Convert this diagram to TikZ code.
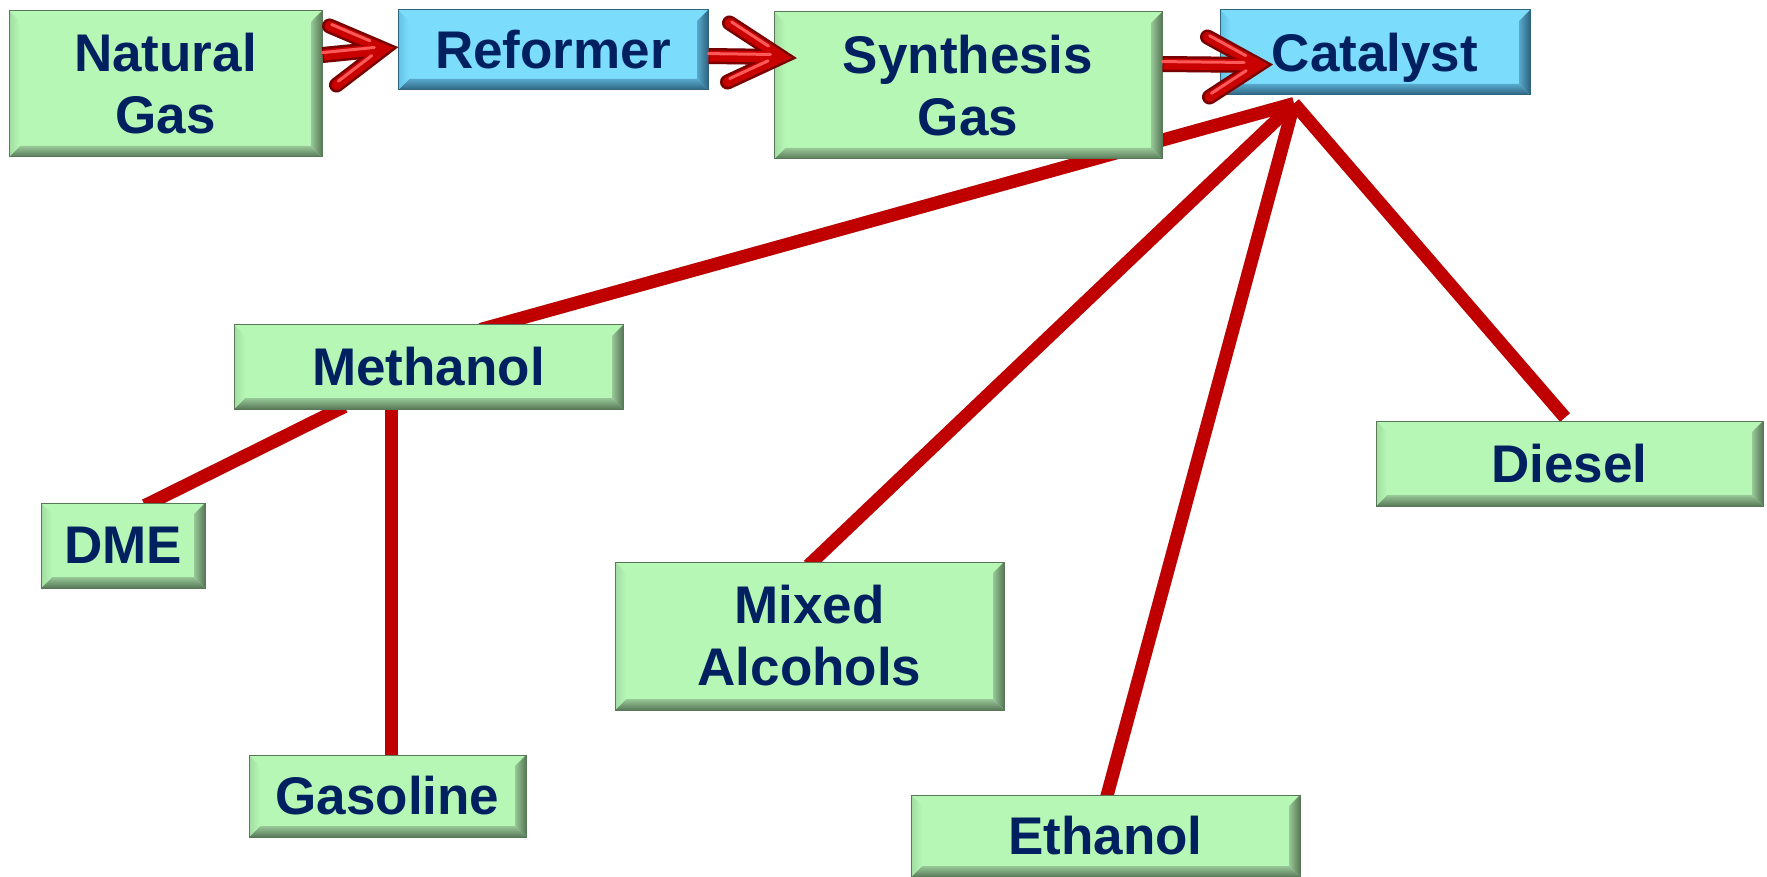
\documentclass[tikz,border=0pt]{standalone}
\usepackage{fontspec}
\setmainfont{Liberation Sans}
\usetikzlibrary{calc,backgrounds}
\definecolor{navy}{HTML}{002060}
\definecolor{redline}{HTML}{C00000}
\definecolor{arrowdark}{HTML}{7A0000}
\definecolor{arrowred}{HTML}{C80000}
\definecolor{arrowhl}{HTML}{FF5A5A}
\definecolor{gM}{HTML}{B6F7B6}
\definecolor{gT}{HTML}{F2FFF2}
\definecolor{gL}{HTML}{A2DCA2}
\definecolor{gB}{HTML}{98C898}
\definecolor{gD}{HTML}{587858}
\definecolor{bM}{HTML}{7BDCFC}
\definecolor{bT}{HTML}{DDF8FF}
\definecolor{bL}{HTML}{62C2E4}
\definecolor{bB}{HTML}{58A8CC}
\definecolor{bD}{HTML}{2E6480}
\def\bw{5.5pt}
\newcommand\bevelpic[1]{%
  \coordinate (bNW) at (path picture bounding box.north west);
  \coordinate (bNE) at (path picture bounding box.north east);
  \coordinate (bSW) at (path picture bounding box.south west);
  \coordinate (bSE) at (path picture bounding box.south east);
  \coordinate (iNW) at ([xshift=\bw,yshift=-\bw]bNW);
  \coordinate (iNE) at ([xshift=-\bw,yshift=-\bw]bNE);
  \coordinate (iSW) at ([xshift=\bw,yshift=\bw]bSW);
  \coordinate (iSE) at ([xshift=-\bw,yshift=\bw]bSE);
  \shade[top color=#1M, middle color=#1T, bottom color=#1M] (bNW) -- (bNE) -- (iNE) -- (iNW) -- cycle;
  \shade[top color=#1B, bottom color=#1D] (bSW) -- (iSW) -- (iSE) -- (bSE) -- cycle;
  \shade[left color=#1L, right color=#1M] (bNW) -- (iNW) -- (iSW) -- (bSW) -- cycle;
  \shade[left color=#1B, right color=#1D] (bNE) -- (bSE) -- (iSE) -- (iNE) -- cycle;
}
\newcommand\redarrow[4]{%
  \draw[ashadow, line width=8pt] (#1) -- (#2);
  \draw[ashadow, line width=7.5pt, line cap=round, miter limit=10] (#3) -- (#2) -- (#4);
  \draw[draw=arrowdark, line width=8pt] (#1) -- (#2);
  \draw[draw=arrowdark, line width=7.5pt, line cap=round, miter limit=10] (#3) -- (#2) -- (#4);
  \draw[abody, line width=5.5pt] ([xshift=0.5pt]#1) -- (#2);
  \draw[abody, line width=5pt, line cap=round, miter limit=10] (#3) -- (#2) -- (#4);
  \draw[ahl] ([yshift=1.2pt]#1) -- ([yshift=1.2pt]$(#1)!0.85!(#2)$);
  \draw[ahl] ([yshift=1.2pt]$(#3)!0.04!(#2)$) -- ([yshift=1.2pt]$(#3)!0.75!(#2)$);
  \draw[ahl] ([yshift=1.2pt]$(#4)!0.04!(#2)$) -- ([yshift=1.2pt]$(#4)!0.75!(#2)$);
}
\begin{document}
\begin{tikzpicture}[x=0.5pt,y=-0.5pt,
  box/.style={inner sep=0pt, align=center, text=navy, line width=0.5pt,
    font=\fontsize{26.5}{31}\selectfont\bfseries},
  gbox/.style={box, draw=gD, fill=gM, path picture={\bevelpic{g}}},
  bbox/.style={box, draw=bD, fill=bM, path picture={\bevelpic{b}}},
  sz/.style 2 args={minimum width={#1*0.5pt}, minimum height={#2*0.5pt}},
  link/.style={draw=redline, line width=6.5pt},
  linkshadow/.style={draw=gray!45, line width=6.5pt, xshift=1.5pt, yshift=-1.5pt},
  ashadow/.style={draw=black!30, opacity=0.5, xshift=2pt, yshift=-2.5pt},
  abody/.style={draw=arrowred},
  ahl/.style={draw=arrowhl, line width=1.5pt, line cap=round}]
\useasboundingbox (0,0) rectangle (1767,877);

% boxes
\node[gbox, sz={313}{146}] (nat) at (165.5,84) {Natural\\Gas};
\node[bbox, sz={310}{80}] (ref) at (553,50) {Reformer};
\node[gbox, sz={388}{147}] (syn) at (968,85.5) {Synthesis\\Gas};
\node[bbox, sz={310}{85}, text depth=0pt] (cat) at (1375,52.5) {Catalyst};
\node[gbox, sz={389}{84}] (meth) at (428.5,367) {Methanol};
\node[gbox, sz={164}{85}] (dme) at (123,545.5) {DME};
\node[gbox, sz={277}{82}] (gas) at (387.5,796) {Gasoline};
\node[gbox, sz={389}{148}] (mix) at (809.5,636) {Mixed\\Alcohols};
\node[gbox, sz={389}{82}] (eth) at (1105.5,836) {Ethanol};
\node[gbox, sz={387}{85}] (dies) at (1569.5,463.5) {Diesel};

% connector end points
\coordinate (apex) at ($(cat.south)+(-81,8)$);
\coordinate (methtop) at ($(meth.north)+(52,5)$);
\coordinate (mixtop) at ($(mix.north)+(-1,4)$);
\coordinate (ethtop) at ($(eth.north)+(0.5,5)$);
\coordinate (diestop) at ($(dies.north)+(-4.5,-3)$);
\coordinate (methdme) at ($(meth.south)+(-84,-3)$);
\coordinate (dmetop) at ($(dme.north)+(22,3)$);
\coordinate (methgas) at ($(meth.south)+(-37.5,-4)$);
\coordinate (gastop) at ($(gas.north)+(3.5,4)$);

\begin{pgfonlayer}{background}
\fill[white] (0,0) rectangle (1767,877);
\foreach \a/\b in {apex/methtop, apex/mixtop, apex/ethtop, apex/diestop, methdme/dmetop, methgas/gastop}{
  \draw[linkshadow] (\a) -- (\b);
}
\foreach \a/\b in {apex/methtop, apex/mixtop, apex/ethtop, apex/diestop, methdme/dmetop, methgas/gastop}{
  \draw[link] (\a) -- (\b);
}
\end{pgfonlayer}

% arrows
\coordinate (t1) at ($(ref.west)+(-14,-1)$);
\coordinate (s1) at ($(nat.east |- t1)+(0,6)$);
\coordinate (a1) at ($(t1)+(-54,-23)$);
\coordinate (b1) at ($(t1)+(-47,36)$);
\redarrow{s1}{t1}{a1}{b1}

\coordinate (t2) at ($(syn.west)+(8,-28.5)$);
\coordinate (s2) at ($(ref.east)+(0,6)$);
\coordinate (a2) at ($(t2)+(-52,-34)$);
\coordinate (b2) at ($(t2)+(-54,25)$);
\redarrow{s2}{t2}{a2}{b2}

\coordinate (t3) at ($(cat.west)+(39,12.5)$);
\coordinate (s3) at ($(syn.east |- t3)+(0,-1)$);
\coordinate (a3) at ($(t3)+(-51,-28)$);
\coordinate (b3) at ($(t3)+(-49,32)$);
\redarrow{s3}{t3}{a3}{b3}
\end{tikzpicture}
\end{document}
